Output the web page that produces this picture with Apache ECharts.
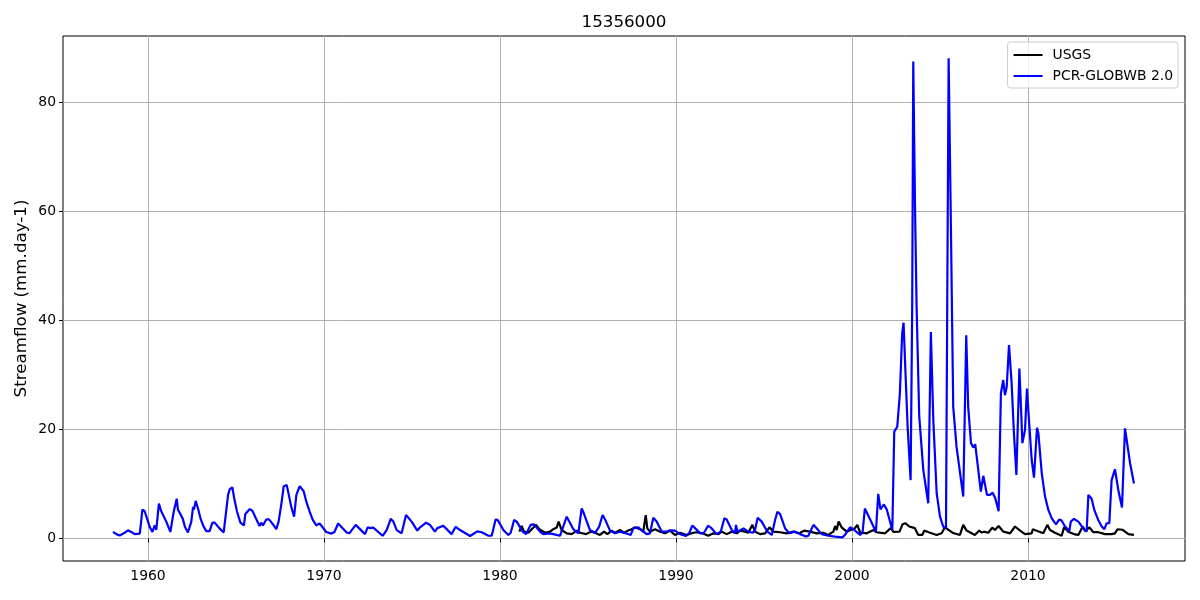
<!DOCTYPE html>
<html><head><meta charset="utf-8">
<style>html,body{margin:0;padding:0;background:#fff}#c{width:1200px;height:600px}</style>
<script src="https://cdn.jsdelivr.net/npm/echarts@6/dist/echarts.min.js"></script>
</head><body><div id="c"></div>
<script>
const chartTitle = "15356000";
const yLabel = "Streamflow (mm.day-1)";
const xTicks = [1960,1970,1980,1990,2000,2010];
const yTicks = [0,20,40,60,80];
const pcrYears = [1958.01,1958.2,1958.39,1958.6,1958.86,1959.05,1959.24,1959.53,1959.6,1959.68,1959.81,1959.95,1960.1,1960.25,1960.38,1960.47,1960.62,1960.74,1960.85,1961.05,1961.27,1961.46,1961.63,1961.7,1961.8,1961.98,1962.1,1962.27,1962.46,1962.56,1962.61,1962.71,1962.84,1963,1963.13,1963.31,1963.41,1963.5,1963.66,1963.79,1964.05,1964.3,1964.41,1964.55,1964.64,1964.79,1964.92,1965.06,1965.25,1965.45,1965.53,1965.78,1965.93,1966.1,1966.34,1966.43,1966.53,1966.63,1966.72,1966.87,1967.1,1967.29,1967.42,1967.58,1967.71,1967.88,1968,1968.14,1968.3,1968.43,1968.62,1968.84,1969,1969.19,1969.35,1969.56,1969.75,1970.13,1970.42,1970.6,1970.8,1970.91,1971.29,1971.44,1971.8,1972.33,1972.48,1972.61,1972.8,1973.33,1973.56,1973.79,1973.94,1974.13,1974.41,1974.66,1974.77,1974.98,1975.3,1975.46,1975.8,1976.02,1976.3,1976.44,1976.78,1977.25,1977.48,1977.73,1978.3,1978.71,1978.96,1979.34,1979.53,1979.75,1979.87,1980.19,1980.47,1980.61,1980.8,1980.95,1981.29,1981.48,1981.74,1981.93,1982.27,1982.46,1982.84,1983.41,1983.79,1984.17,1984.45,1984.64,1984.73,1984.83,1985.11,1985.4,1985.63,1985.83,1985.97,1986.25,1986.53,1986.82,1987.16,1987.42,1987.58,1987.86,1988.05,1988.33,1988.52,1988.71,1988.9,1989.19,1989.47,1989.66,1989.94,1990.23,1990.57,1990.76,1990.93,1991.08,1991.37,1991.59,1991.82,1992.03,1992.31,1992.54,1992.75,1992.88,1993.17,1993.35,1993.41,1993.49,1993.83,1994.11,1994.36,1994.49,1994.64,1994.87,1995.19,1995.44,1995.63,1995.76,1995.91,1996.2,1996.44,1996.76,1997.05,1997.39,1997.52,1997.81,1998,1998.28,1998.66,1999.04,1999.45,1999.6,1999.89,2000.08,2000.46,2000.6,2000.73,2000.87,2001.36,2001.49,2001.62,2001.81,2001.97,2002.29,2002.4,2002.57,2002.72,2002.85,2002.93,2003.04,2003.16,2003.33,2003.42,2003.48,2003.58,2003.67,2003.82,2004.05,2004.33,2004.48,2004.62,2004.81,2005,2005.18,2005.34,2005.41,2005.49,2005.6,2005.75,2005.94,2006.32,2006.49,2006.6,2006.76,2006.89,2007,2007.32,2007.46,2007.55,2007.67,2007.84,2007.99,2008.14,2008.33,2008.46,2008.59,2008.69,2008.79,2008.92,2009.07,2009.2,2009.34,2009.51,2009.6,2009.68,2009.83,2009.94,2010.08,2010.21,2010.34,2010.51,2010.59,2010.78,2010.97,2011.16,2011.35,2011.59,2011.78,2011.91,2012.1,2012.35,2012.43,2012.61,2012.86,2013.14,2013.33,2013.43,2013.62,2013.77,2013.99,2014.19,2014.34,2014.47,2014.62,2014.75,2014.94,2015.13,2015.34,2015.51,2015.61,2015.8,2016.02];
const pcrValues = [1.2,0.8,0.55,0.9,1.5,1.2,0.8,0.9,2.8,5.3,5,3.6,2.1,1.2,2.4,1.6,6.4,5.1,4.9,3,1.2,4.9,7.3,5.3,5.2,3.6,2.1,1.1,3.1,5.8,5.3,6.9,5.5,3.5,2.4,1.35,1.5,1.35,2.9,2.9,1.9,1.1,1.2,8,9,9.4,7,4.9,2.9,2.4,4.5,5.4,5.1,3.9,2.3,2.9,2.4,2.4,3.5,3.5,2.6,1.7,3.1,6.4,9.6,9.8,8,5.8,4,8,9.6,8.7,6.7,4.9,3.5,2.4,2.75,1.2,0.9,1.2,2.75,2.8,1.1,0.95,2.5,0.8,2.05,1.9,2,0.5,1.55,3.6,3.1,1.55,0.95,4.3,4.45,3.1,1.45,2.05,2.9,2.5,1.25,1.9,2.35,0.8,2.15,1.55,0.45,1.3,1.15,0.5,0.5,3.5,3.4,1.55,0.65,1.05,3.4,3.1,1.25,0.8,2.5,2.6,1.25,0.8,0.95,0.5,4,1.7,0.95,5.5,4.9,5.1,1.55,1.05,2.15,4.3,3.5,1.45,0.95,1.25,0.95,0.65,1.85,2.05,1.55,0.8,0.95,3.8,3.1,1.25,1.25,1.5,1.45,0.8,0.45,1.05,2.4,1.9,0.95,1.05,2.35,1.85,0.8,1.25,3.7,3.5,1.55,0.95,2.5,1.25,1.85,1.25,1.05,1.55,3.8,3.1,1.25,0.65,3.4,4.9,4.5,1.85,0.95,1.25,0.8,0.35,0.5,2.5,1.85,0.8,0.5,0.35,0.2,0.65,2.05,1.7,0.65,1.1,5.5,4.6,1.25,8.2,5.35,6.25,5.35,1.55,19.6,20.5,26.6,37.6,39.6,30.3,20.5,10.7,42.5,87.5,60.9,42.5,22.4,12.6,6.45,37.9,21.7,8.3,4,2.2,1.9,42.5,88.1,62,24.2,16.8,7.7,37.3,24.2,17.5,16.7,17.3,8.6,11.5,11.3,8,8,8.4,7.4,5,26.6,29.1,26.3,27.8,35.5,28.5,19.3,11.65,31.2,24.2,17.5,19.9,27.5,20.5,14.4,11.15,20.3,19.3,12,7.65,5.2,3.7,2.6,3.5,3.3,2.2,1.4,3.1,3.6,3.1,1.85,1.25,8,7.25,5.2,3.4,2.2,1.7,2.8,2.8,10.7,12.7,8.9,5.7,20.2,20.2,13.8,10.1];
const usgsYears = [1981.1,1981.23,1981.36,1981.61,1981.8,1982.05,1982.23,1982.56,1982.84,1983.03,1983.22,1983.33,1983.5,1983.79,1984.07,1984.36,1984.55,1984.89,1985.15,1985.4,1985.68,1985.91,1986.1,1986.34,1986.53,1986.82,1987.05,1987.29,1987.48,1987.67,1987.95,1988.14,1988.28,1988.37,1988.52,1988.81,1989.09,1989.38,1989.66,1989.94,1990.23,1990.6,1990.99,1991.18,1991.5,1991.84,1992.12,1992.41,1992.6,1992.88,1993.17,1993.45,1993.64,1993.92,1994.11,1994.34,1994.49,1994.78,1995.06,1995.31,1995.53,1995.91,1996.29,1996.67,1997.01,1997.28,1997.62,1998,1998.37,1998.66,1998.94,1999.04,1999.13,1999.24,1999.41,1999.7,1999.89,2000.17,2000.3,2000.46,2000.84,2001.22,2001.4,2001.88,2002.2,2002.35,2002.7,2002.87,2003.04,2003.25,2003.57,2003.76,2004,2004.1,2004.43,2004.81,2005.09,2005.28,2005.75,2006.13,2006.32,2006.51,2006.98,2007.23,2007.36,2007.5,2007.74,2007.97,2008.12,2008.33,2008.6,2008.98,2009.26,2009.55,2009.83,2010.21,2010.27,2010.68,2010.87,2011.1,2011.25,2011.53,2011.91,2012.05,2012.29,2012.67,2012.86,2013.11,2013.24,2013.49,2013.71,2013.99,2014.38,2014.75,2014.94,2015.08,2015.19,2015.38,2015.7,2016.02];
const usgsValues = [1.25,2.3,1.25,1.05,1.7,2.5,1.7,1.05,1.25,1.7,2,3.1,1.55,0.95,0.8,1.45,1.05,0.8,1.25,1.05,0.65,1.25,0.8,1.45,1.05,1.55,1.05,1.45,1.7,2.05,1.7,1.25,4.3,1.85,1.25,1.7,1.25,0.95,1.45,0.65,1.05,0.65,1.05,1.15,0.95,0.5,0.95,0.8,1.25,0.8,1.25,0.95,1.45,1.25,1.05,2.5,1.25,0.8,0.95,2.05,1.25,1.15,0.95,1.25,0.95,1.45,1.25,0.95,1.05,0.65,1.25,2.3,1.55,3.1,2.05,1.25,1.5,1.9,2.5,1.1,0.95,1.55,1.15,0.95,1.9,1.2,1.25,2.6,2.8,2.2,1.9,0.65,0.65,1.45,1.05,0.65,0.95,2.05,1,0.65,2.5,1.45,0.65,1.45,1.1,1.25,1.05,2,1.55,2.3,1.25,0.95,2.2,1.45,0.8,0.95,1.7,1.2,0.95,2.5,1.55,1.05,0.5,2.05,1.25,0.75,0.65,2.2,1.35,2.05,1.15,1.15,0.8,0.8,0.95,1.7,1.45,1.6,0.8,0.65];

const font = "DejaVu Sans";
const chart = echarts.init(document.getElementById('c'), null, {renderer:'canvas'});
chart.setOption({
  animation:false,
  backgroundColor:'#fff',
  title:{text:chartTitle,left:619,top:9,textAlign:'center',textStyle:{fontFamily:font,fontSize:16.7,fontWeight:'normal',color:'#000'}},
  legend:{
    orient:'vertical',right:22,top:42,padding:[5,5,4,6],itemGap:5,itemWidth:29,itemHeight:2,icon:'rect',
    backgroundColor:'rgba(255,255,255,0.8)',borderColor:'#ccc',borderWidth:1,borderRadius:3,
    textStyle:{fontFamily:font,fontSize:13.9,color:'#000',padding:[0,0,0,5],lineHeight:16},
    data:['USGS','PCR-GLOBWB 2.0']
  },
  grid:{left:63,right:15,top:36,bottom:39,show:true,borderColor:'#000',borderWidth:1,backgroundColor:'transparent',outerBoundsMode:'none'},
  xAxis:{
    type:'value',min:1955.17,max:2018.92,
    axisLine:{show:false},
    axisTick:{show:true,length:4,lineStyle:{color:'#000',width:1},customValues:xTicks},
    axisLabel:{fontFamily:font,fontSize:13.9,color:'#000',margin:8,customValues:xTicks,formatter:v=>String(v)},
    splitLine:{show:true,lineStyle:{color:'#b0b0b0',width:1}}
  },
  yAxis:{
    type:'value',min:-4.13,max:92.2,
    name:yLabel,nameLocation:'middle',nameGap:33,nameRotate:90,nameMoveOverlap:false,
    nameTextStyle:{fontFamily:font,fontSize:16.7,color:'#000'},
    axisLine:{show:false},
    axisTick:{show:true,length:4,lineStyle:{color:'#000',width:1},customValues:yTicks},
    axisLabel:{fontFamily:font,fontSize:13.9,color:'#000',margin:7,customValues:yTicks,formatter:v=>String(v)},
    splitLine:{show:true,lineStyle:{color:'#b0b0b0',width:1}}
  },
  series:[
    {name:'USGS',type:'line',symbol:'none',smooth:false,z:3,lineStyle:{color:'#000',width:2.2},itemStyle:{color:'#000'},
     data:usgsYears.map((y,i)=>[y,usgsValues[i]])},
    {name:'PCR-GLOBWB 2.0',type:'line',symbol:'none',smooth:false,z:4,lineStyle:{color:'#00f',width:2.2},itemStyle:{color:'#00f'},
     data:pcrYears.map((y,i)=>[y,pcrValues[i]])}
  ]
});
</script></body></html>
